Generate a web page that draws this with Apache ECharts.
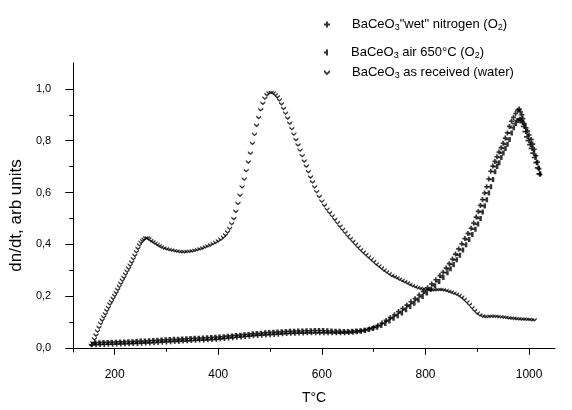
<!DOCTYPE html>
<html>
<head>
<meta charset="utf-8">
<script src="https://cdn.jsdelivr.net/npm/echarts@6/dist/echarts.min.js"></script>
<style>html,body{margin:0;padding:0;background:#fff}#c{width:572px;height:410px}</style>
</head>
<body>
<div id="c"></div>
<script>
// ---- data ----
const xMajorTicks = [200, 400, 600, 800, 1000];
const xMinorTicks = [300, 500, 700, 900];
const yMajorTicks = [0, 0.2, 0.4, 0.6, 0.8, 1.0];
const yMinorTicks = [0.1, 0.3, 0.5, 0.7, 0.9];

const seriesNames = ['wet', 'air', 'water'];

// BaCeO3 "wet" nitrogen (O2)  [T, dn/dt]
const wetNitrogen = [
[156,0.012],[164,0.012],[172,0.013],[180,0.013],[188,0.014],[196,0.014],[204,0.015],[212,0.015],[220,0.016],[228,0.016],
[236,0.017],[244,0.017],[252,0.018],[260,0.019],[268,0.019],[276,0.020],[284,0.021],[292,0.022],[300,0.023],[308,0.024],
[316,0.025],[324,0.025],[332,0.026],[340,0.027],[348,0.028],[356,0.029],[364,0.030],[372,0.030],[380,0.031],[388,0.032],
[396,0.033],[404,0.035],[412,0.036],[420,0.038],[428,0.039],[436,0.041],[444,0.042],[452,0.044],[460,0.045],[468,0.047],
[476,0.048],[484,0.049],[492,0.050],[500,0.051],[508,0.052],[516,0.053],[524,0.054],[532,0.055],[540,0.056],[548,0.056],
[556,0.057],[564,0.057],[572,0.058],[580,0.058],[588,0.058],[596,0.058],[604,0.058],[612,0.058],[620,0.058],[628,0.058],
[636,0.058],[644,0.058],[652,0.059],[660,0.060],[668,0.062],[676,0.064],[684,0.068],[692,0.073],[700,0.079],[708,0.086],
[716,0.096],[724,0.106],[732,0.117],[740,0.128],[748,0.140],[756,0.152],[764,0.165],[772,0.178],[780,0.190],[788,0.204],
[796,0.218],[804,0.232],[812,0.247],[820,0.263],[828,0.279],[834,0.292],[840,0.308],[846,0.325],[852,0.343],[858,0.362],
[864,0.382],[870,0.402],[876,0.422],[882,0.442],[888,0.462],[893,0.482],[898,0.505],[902,0.527],[906,0.550],[910,0.573],
[914,0.598],[918,0.622],[922,0.652],[926,0.682],[930,0.702],[934,0.720],[938,0.738],[942,0.756],[946,0.773],[950,0.790],
[954,0.810],[958,0.830],[962,0.855],[966,0.875],[970,0.890],[974,0.905],[978,0.918],[981,0.922],[983,0.912],[986,0.900],
[988,0.885],[991,0.865],[994,0.850],[997,0.837],[1000,0.822],[1004,0.805],[1007,0.787],[1010,0.767],[1013,0.742],[1016,0.717],
[1019,0.692],[1021,0.670]
];

// BaCeO3 air 650°C (O2)
const airAnnealed = [
[160,0.020],[168,0.020],[176,0.021],[184,0.021],[192,0.022],[200,0.022],[208,0.023],[216,0.023],[224,0.024],[232,0.024],
[240,0.025],[248,0.026],[256,0.026],[264,0.027],[272,0.028],[280,0.029],[288,0.030],[296,0.031],[304,0.032],[312,0.033],
[320,0.033],[328,0.034],[336,0.035],[344,0.036],[352,0.037],[360,0.037],[368,0.038],[376,0.039],[384,0.040],[392,0.041],
[400,0.042],[408,0.043],[416,0.045],[424,0.046],[432,0.048],[440,0.049],[448,0.051],[456,0.052],[464,0.054],[472,0.055],
[480,0.056],[488,0.058],[496,0.059],[504,0.060],[512,0.061],[520,0.062],[528,0.063],[536,0.064],[544,0.064],[552,0.065],
[560,0.065],[568,0.066],[576,0.066],[584,0.067],[592,0.067],[600,0.067],[608,0.066],[616,0.065],[624,0.064],[632,0.064],
[640,0.063],[648,0.063],[656,0.064],[664,0.065],[672,0.066],[680,0.068],[688,0.071],[696,0.075],[704,0.080],[712,0.086],
[720,0.094],[728,0.104],[736,0.114],[744,0.124],[752,0.135],[760,0.147],[768,0.160],[776,0.172],[784,0.185],[792,0.198],
[800,0.212],[808,0.226],[816,0.240],[824,0.256],[832,0.272],[840,0.290],[846,0.305],[852,0.322],[858,0.340],[864,0.358],
[870,0.378],[876,0.398],[882,0.418],[888,0.438],[894,0.458],[899,0.478],[904,0.500],[908,0.525],[912,0.548],[916,0.572],
[920,0.598],[924,0.622],[928,0.650],[932,0.680],[936,0.700],[940,0.715],[944,0.735],[948,0.752],[952,0.770],[956,0.786],
[960,0.805],[964,0.830],[968,0.850],[972,0.866],[976,0.878],[980,0.883],[983,0.880],[986,0.870],[989,0.855],[992,0.835],
[995,0.815],[998,0.800],[1001,0.785],[1004,0.770],[1007,0.752],[1010,0.735],[1013,0.715],[1016,0.695],[1019,0.672]
];

// BaCeO3 as received (water)
const asReceived = [
[155,0.010],[158,0.020],[161,0.035],[164,0.050],[167,0.065],[170,0.080],[173,0.095],[176,0.108],[179,0.120],[182,0.132],
[185,0.145],[188,0.157],[191,0.170],[194,0.180],[197,0.192],[200,0.203],[203,0.214],[206,0.226],[209,0.238],[212,0.250],
[215,0.262],[218,0.273],[221,0.285],[224,0.297],[227,0.308],[230,0.320],[233,0.332],[236,0.345],[239,0.358],[242,0.372],
[245,0.385],[248,0.398],[251,0.408],[254,0.415],[257,0.420],[260,0.425],[263,0.425],[266,0.421],[270,0.415],[274,0.410],
[278,0.405],[282,0.400],[286,0.395],[290,0.390],[295,0.386],[300,0.383],[305,0.380],[310,0.378],[315,0.376],[320,0.374],
[325,0.372],[330,0.371],[335,0.371],[340,0.372],[345,0.373],[350,0.375],[355,0.377],[360,0.380],[365,0.383],[370,0.386],
[375,0.390],[380,0.394],[385,0.398],[390,0.403],[395,0.408],[400,0.414],[405,0.420],[410,0.428],[414,0.437],[418,0.448],
[422,0.462],[426,0.480],[430,0.500],[434,0.528],[438,0.558],[442,0.590],[446,0.622],[450,0.652],[454,0.685],[458,0.718],
[462,0.752],[466,0.790],[470,0.825],[474,0.860],[478,0.890],[482,0.920],[486,0.945],[490,0.965],[494,0.978],[498,0.985],
[502,0.987],[506,0.985],[510,0.978],[514,0.970],[518,0.958],[522,0.943],[526,0.925],[530,0.907],[534,0.888],[538,0.868],
[542,0.847],[546,0.826],[550,0.805],[554,0.784],[558,0.764],[562,0.743],[566,0.722],[570,0.702],[574,0.681],[578,0.660],
[582,0.641],[586,0.622],[590,0.604],[595,0.585],[600,0.567],[605,0.551],[610,0.536],[615,0.523],[620,0.510],[625,0.497],
[630,0.484],[635,0.471],[640,0.458],[645,0.446],[650,0.434],[655,0.423],[660,0.412],[665,0.401],[670,0.390],[675,0.380],
[680,0.370],[685,0.361],[690,0.352],[695,0.343],[700,0.334],[705,0.325],[710,0.317],[715,0.309],[720,0.301],[725,0.294],
[730,0.287],[735,0.280],[740,0.276],[745,0.271],[750,0.266],[755,0.261],[760,0.256],[765,0.251],[770,0.246],[775,0.241],
[780,0.237],[785,0.233],[790,0.230],[795,0.228],[800,0.226],[805,0.225],[810,0.224],[815,0.224],[820,0.224],[825,0.225],
[830,0.225],[835,0.224],[840,0.222],[845,0.219],[850,0.216],[855,0.212],[860,0.208],[865,0.203],[870,0.196],[875,0.188],
[880,0.178],[885,0.168],[890,0.156],[895,0.145],[900,0.135],[905,0.128],[910,0.123],[915,0.121],[920,0.121],[925,0.122],
[930,0.122],[935,0.122],[940,0.121],[945,0.120],[950,0.119],[955,0.118],[960,0.116],[965,0.115],[970,0.114],[975,0.113],
[980,0.112],[985,0.111],[990,0.111],[995,0.110],[1000,0.110],[1005,0.109],[1010,0.109]
];

const legendLabels = {
  wet: 'BaCeO{s|3}"wet" nitrogen (O{s|2})',
  air: 'BaCeO{s|3} air 650°C (O{s|2})',
  water: 'BaCeO{s|3} as received (water)'
};

// ---- chart ----
const FONT = 'Liberation Sans, Arial, sans-serif';
const symPlus = 'path://M2,0H4V2H6V4H4V6H2V4H0V2H2Z';
const symTee = 'path://M0,2H2V0H4V6H2V4H0Z';
const symVee = 'path://M0,0L3,3L6,0L6,2.5L3,5.5L0,2.5Z';

const chart = echarts.init(document.getElementById('c'), null, {renderer: 'canvas'});
const fmt = v => v.toFixed(1).replace('.', ',');
const black = {color: '#000', width: 1};

function mkLegend(name, top) {
  return {
    data: [name], left: 319, top: top, orient: 'vertical',
    itemWidth: 6, itemHeight: 6, selectedMode: false,
    formatter: n => legendLabels[n],
    textStyle: {
      fontFamily: FONT, fontSize: 13, color: '#000', padding: [0, 0, 0, 17],
      rich: {s: {fontFamily: FONT, fontSize: 9, color: '#000', padding: [7, 0, 0, 0]}}
    }
  };
}

chart.setOption({
  animation: false,
  backgroundColor: '#fff',
  grid: {left: 72, right: 17, top: 63, bottom: 50, containLabel: false},
  legend: [mkLegend('wet', 13), mkLegend('air', 41), mkLegend('water', 61)],
  xAxis: [
    {
      type: 'value', min: 120, max: 1050, position: 'bottom',
      axisLine: {show: true, lineStyle: black},
      axisTick: {show: true, customValues: xMajorTicks, length: 7, lineStyle: black},
      axisLabel: {customValues: xMajorTicks, margin: 17, formatter: v => String(v),
                  fontFamily: FONT, fontSize: 12, color: '#000'},
      splitLine: {show: false},
      name: 'T°C', nameLocation: 'middle', nameGap: 39,
      nameTextStyle: {fontFamily: FONT, fontSize: 14, color: '#000'}
    },
    {
      type: 'value', min: 120, max: 1050, position: 'bottom',
      axisLine: {show: false},
      axisTick: {show: true, customValues: xMinorTicks, length: 4, lineStyle: black},
      axisLabel: {show: false}, splitLine: {show: false}
    }
  ],
  yAxis: [
    {
      type: 'value', min: -0.016, max: 1.1, position: 'left',
      axisLine: {show: true, lineStyle: black},
      axisTick: {show: true, customValues: yMajorTicks, length: 8, lineStyle: black},
      axisLabel: {customValues: yMajorTicks, margin: 22, formatter: fmt, fontFamily: FONT, fontSize: 11, color: '#000'},
      splitLine: {show: false},
      name: 'dn/dt, arb units', nameLocation: 'middle', nameGap: 45, nameRotate: 90,
      nameTextStyle: {fontFamily: FONT, fontSize: 17, color: '#000', padding: [0, 16, 0, 0]}
    },
    {
      type: 'value', min: -0.016, max: 1.1, position: 'left',
      axisLine: {show: false},
      axisTick: {show: true, customValues: yMinorTicks, length: 4, lineStyle: black},
      axisLabel: {show: false}, splitLine: {show: false}
    }
  ],
  series: [
    {name: 'wet', type: 'scatter', data: wetNitrogen, symbol: symPlus, symbolSize: 5,
     itemStyle: {color: '#000'}, silent: true},
    {name: 'air', type: 'scatter', data: airAnnealed, symbol: symTee, symbolSize: 5,
     itemStyle: {color: '#000'}, silent: true},
    {name: 'water', type: 'scatter', data: asReceived, symbol: symVee, symbolSize: [5, 4],
     itemStyle: {color: '#000'}, silent: true}
  ]
});
</script>
</body>
</html>
